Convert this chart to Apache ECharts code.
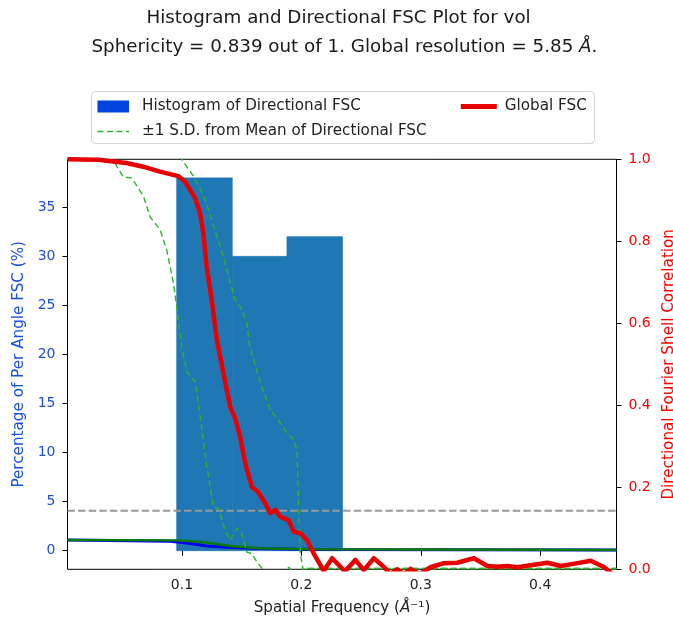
<!DOCTYPE html>
<html><head><meta charset="utf-8">
<script src="https://cdn.jsdelivr.net/npm/echarts@6/dist/echarts.min.js"></script>
<style>html,body{margin:0;padding:0;background:#fff}#c{width:673px;height:626px}</style>
</head><body><div id="c"></div>
<script>
const FONT = 'DejaVu Sans';

// Histogram of directional FSC (left axis, %)
const binStart = [0.0957, 0.1421, 0.1880];
const binEnd   = [0.1421, 0.1880, 0.2344];
const binPct   = [38, 30, 32];

// Global FSC (right axis)
const globalFreq = [0.0042, 0.0300, 0.0440, 0.0536, 0.0676, 0.0816, 0.0969, 0.1025, 0.1109, 0.1151, 0.1179, 0.1207, 0.1249, 0.1293, 0.1348, 0.1404, 0.1446, 0.1488, 0.1530, 0.1586, 0.1637, 0.1698, 0.1740, 0.1782, 0.1824, 0.1893, 0.1935, 0.1992, 0.2048, 0.2103, 0.2187, 0.2258, 0.2365, 0.2453, 0.2523, 0.2607, 0.2690, 0.2745, 0.2803, 0.2860, 0.2914, 0.2990, 0.3082, 0.3194, 0.3306, 0.3445, 0.3558, 0.3642, 0.3726, 0.3810, 0.3921, 0.4061, 0.4172, 0.4313, 0.4424, 0.4536, 0.4600];
const globalFSC  = [1.000, 0.999, 0.994, 0.991, 0.982, 0.970, 0.959, 0.946, 0.906, 0.870, 0.821, 0.739, 0.658, 0.559, 0.478, 0.397, 0.368, 0.323, 0.259, 0.201, 0.189, 0.161, 0.137, 0.145, 0.128, 0.120, 0.092, 0.088, 0.071, 0.039, -0.004, 0.027, -0.005, 0.023, -0.002, 0.027, 0.006, -0.012, 0.000, -0.012, 0.001, -0.012, 0.005, 0.015, 0.016, 0.027, 0.008, 0.006, 0.008, 0.005, 0.010, 0.016, 0.008, 0.015, 0.021, 0.005, -0.010];

// Mean - 1 S.D.
const lowFreq = [0.0042, 0.0313, 0.0440, 0.0509, 0.0580, 0.0677, 0.0733, 0.0817, 0.0873, 0.0929, 0.0957, 0.0999, 0.1041, 0.1111, 0.1153, 0.1209, 0.1264, 0.1306, 0.1362, 0.1404, 0.1461, 0.1503, 0.1544, 0.1586, 0.1628, 0.1684, 0.1760, 0.1850, 0.1895, 0.1940, 0.2000, 0.2048, 0.4639];
const lowFSC  = [1.000, 0.999, 0.990, 0.957, 0.954, 0.911, 0.860, 0.828, 0.779, 0.698, 0.640, 0.543, 0.482, 0.458, 0.372, 0.250, 0.152, 0.148, 0.095, 0.071, 0.100, 0.087, 0.042, 0.038, 0.018, -0.002, -0.020, -0.010, 0.005, -0.010, -0.020, 0.002, 0.002];

// Mean + 1 S.D.
const highFreq = [0.0042, 0.0950, 0.0999, 0.1096, 0.1180, 0.1222, 0.1293, 0.1348, 0.1404, 0.1446, 0.1503, 0.1544, 0.1564, 0.1656, 0.1740, 0.1824, 0.1880, 0.1935, 0.1964, 0.1977, 0.1992, 0.2014, 0.2048, 0.4639];
const highFSC  = [1.020, 1.020, 1.000, 0.959, 0.912, 0.878, 0.812, 0.763, 0.699, 0.658, 0.633, 0.600, 0.550, 0.454, 0.389, 0.357, 0.333, 0.316, 0.291, 0.152, 0.038, 0.000, 0.002, 0.002];

// Solid blue and dark green curves near the bottom
const blueFreq = [0.0042, 0.0900, 0.1041, 0.1209, 0.1377, 0.1656, 0.2075, 0.4639];
const blueVal  = [0.0715, 0.0685, 0.0640, 0.0568, 0.0537, 0.0505, 0.0485, 0.0468];
const greenFreq = [0.0042, 0.0957, 0.1153, 0.1293, 0.1404, 0.1656, 0.2075, 0.4639];
const greenVal  = [0.0715, 0.0705, 0.0673, 0.0617, 0.0568, 0.0512, 0.0488, 0.0470];

// 0.143 threshold
const threshFreq = [0.0042, 0.4639];
const threshVal = [0.143, 0.143];

const xTicks = [0.1, 0.2, 0.3, 0.4];
const leftTicks = [0, 5, 10, 15, 20, 25, 30, 35];

const zip = (a, b) => a.map((v, i) => [v, b[i]]);
const histData = binStart.map((s, i) => [s, binEnd[i], binPct[i]]);

const LBLUE = '#1a4fe0';
const RED = '#e60000';
const SDGREEN = '#2cb52c';
const SDNAME = '±1 S.D. from Mean of Directional FSC';

const chart = echarts.init(document.getElementById('c'), null, {renderer: 'canvas'});
chart.setOption({
  animation: false,
  backgroundColor: '#fff',
  textStyle: {fontFamily: FONT},
  title: [
    {text: 'Histogram and Directional FSC Plot for vol', left: 146.5, top: 9.5, padding: 0,
     textStyle: {fontFamily: FONT, fontSize: 18.3, fontWeight: 'normal', color: '#1a1a1a'}},
    {text: 'Sphericity = 0.839 out of 1. Global resolution = 5.85 {i|Å}.', left: 91.5, top: 38.5, padding: 0,
     textStyle: {fontFamily: FONT, fontSize: 18.3, fontWeight: 'normal', color: '#1a1a1a',
       rich: {i: {fontFamily: FONT, fontSize: 18.3, fontStyle: 'italic', color: '#1a1a1a'}}}}
  ],
  graphic: [{type: 'rect', z: 0, shape: {x: 91.5, y: 91.5, width: 503, height: 52, r: 4},
             style: {fill: '#fff', stroke: '#d4d4d4', lineWidth: 1}}],
  legend: [
    {orient: 'vertical', left: 96.7, top: 99, padding: 0, itemGap: 10, itemWidth: 31.6, itemHeight: 12,
     textStyle: {fontFamily: FONT, fontSize: 15.2, color: '#222', padding: [0, 0, 0, 8]},
     lineStyle: {width: 1.5},
     data: [{name: 'Histogram of Directional FSC', icon: 'rect', itemStyle: {color: '#0343df'}},
            {name: SDNAME, itemStyle: {opacity: 0}}]},
    {orient: 'vertical', left: 458.3, top: 99, padding: 0, itemWidth: 36, itemHeight: 12,
     textStyle: {fontFamily: FONT, fontSize: 15.2, color: '#222', padding: [0, 0, 0, 3]},
     lineStyle: {width: 5},
     data: [{name: 'Global FSC', itemStyle: {opacity: 0}}]}
  ],
  grid: {left: 67.5, top: 159.3, width: 549, height: 410, outerBoundsMode: 'none', containLabel: false,
         show: true, borderColor: '#000', borderWidth: 1, backgroundColor: 'transparent'},
  xAxis: {
    type: 'value', min: 0.0042, max: 0.4639,
    axisLine: {show: false}, splitLine: {show: false},
    axisTick: {show: true, length: 5, lineStyle: {color: '#000'}, customValues: xTicks},
    axisLabel: {customValues: xTicks, formatter: v => v.toFixed(1), color: '#222', fontFamily: FONT, fontSize: 14, margin: 9},
    name: 'Spatial Frequency ({i|Å}⁻¹)', nameLocation: 'middle', nameGap: 31,
    nameTextStyle: {fontFamily: FONT, fontSize: 15.2, color: '#222',
      rich: {i: {fontFamily: FONT, fontSize: 15.2, fontStyle: 'italic', color: '#222'}}}
  },
  yAxis: [
    {type: 'value', position: 'left', min: -1.9, max: 39.9,
     axisLine: {show: false}, splitLine: {show: false},
     axisTick: {show: true, length: 5, lineStyle: {color: '#000'}, customValues: leftTicks},
     axisLabel: {customValues: leftTicks, color: LBLUE, fontFamily: FONT, fontSize: 14, margin: 12},
     name: 'Percentage of Per Angle FSC (%)', nameLocation: 'middle', nameRotate: 90, nameGap: 37,
     nameTextStyle: {fontFamily: FONT, fontSize: 15.2, color: LBLUE}},
    {type: 'value', position: 'right', min: 0, max: 1, interval: 0.2,
     axisLine: {show: false}, splitLine: {show: false},
     axisTick: {show: true, length: 5, lineStyle: {color: '#000'}},
     axisLabel: {formatter: v => v.toFixed(1), color: '#f00', fontFamily: FONT, fontSize: 14, margin: 12},
     name: 'Directional Fourier Shell Correlation', nameLocation: 'middle', nameRotate: 90, nameGap: 36,
     nameTextStyle: {fontFamily: FONT, fontSize: 15.2, color: '#f00'}}
  ],
  series: [
    {type: 'custom', name: 'Histogram of Directional FSC', yAxisIndex: 0, z: 1,
     itemStyle: {color: '#1f77b4'},
     encode: {x: [0, 1], y: 2},
     data: histData,
     renderItem: (params, api) => {
       const p0 = api.coord([api.value(0), api.value(2)]);
       const p1 = api.coord([api.value(1), 0]);
       return {type: 'rect', shape: {x: p0[0], y: p0[1], width: p1[0] - p0[0], height: p1[1] - p0[1]},
               style: {fill: '#1f77b4', stroke: '#1f77b4', lineWidth: 0.8}};
     }},
    {type: 'line', name: 'Directional mean', yAxisIndex: 1, z: 2, symbol: 'none', silent: true,
     lineStyle: {color: '#0000ee', width: 3}, data: zip(blueFreq, blueVal)},
    {type: 'line', name: 'Directional median', yAxisIndex: 1, z: 3, symbol: 'none', silent: true,
     lineStyle: {color: '#0a7a0a', width: 2.4}, data: zip(greenFreq, greenVal)},
    {type: 'line', name: 'Threshold', yAxisIndex: 1, z: 4, symbol: 'none', silent: true,
     lineStyle: {color: '#999', width: 2, type: [7.4, 3.2]}, data: zip(threshFreq, threshVal)},
    {type: 'line', name: SDNAME, yAxisIndex: 1, z: 5, symbol: 'none', silent: true, color: SDGREEN,
     lineStyle: {color: SDGREEN, width: 1.4, type: [6, 3.5]}, data: zip(lowFreq, lowFSC)},
    {type: 'line', name: SDNAME, yAxisIndex: 1, z: 5, symbol: 'none', silent: true, color: SDGREEN,
     lineStyle: {color: SDGREEN, width: 1.4, type: [6, 3.5]}, data: zip(highFreq, highFSC)},
    {type: 'line', name: 'Global FSC', yAxisIndex: 1, z: 6, symbol: 'none', silent: true, color: RED,
     lineStyle: {color: RED, width: 4.5, join: 'round'}, data: zip(globalFreq, globalFSC)}
  ]
});
</script></body></html>
